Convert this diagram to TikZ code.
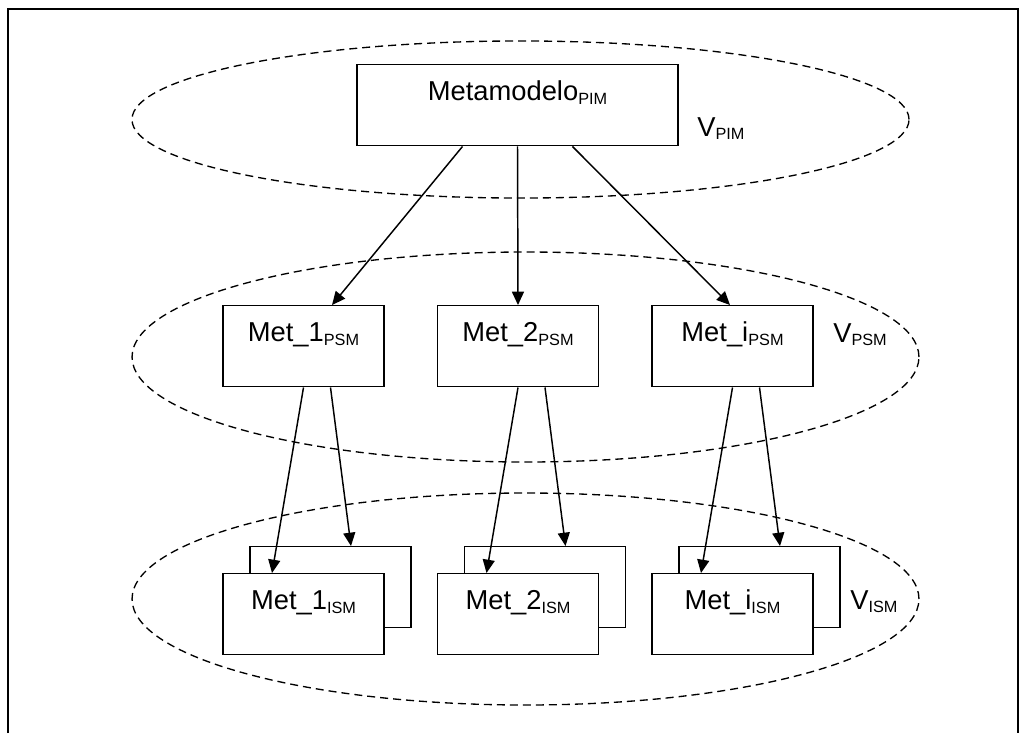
\documentclass[tikz,border=0pt]{standalone}
\usepackage{fontspec}
\setmainfont{Liberation Sans}
\usepackage{tikz}
\usetikzlibrary{arrows.meta, calc}
\newcommand{\subs}[1]{\raisebox{-2.6pt}{\fontsize{12.2}{14}\selectfont #1}}
\tikzset{
  metabox/.style={draw, fill=white, line width=1.1pt, inner sep=0pt, anchor=north,
    minimum width=120.75pt, text height=27pt, text depth=33.75pt,
    font=\fontsize{20.5}{24}\selectfont},
  vlabel/.style={anchor=base west, inner sep=0pt, font=\fontsize{20.5}{24}\selectfont},
  view/.style={line width=1pt, dash pattern=on 6pt off 3.75pt},
  flow/.style={line width=1.1pt, -{Triangle[length=10pt,width=9pt]}}
}
\begin{document}
\begin{tikzpicture}[x=0.75pt, y=-0.75pt]
        \useasboundingbox (0,0) rectangle (1020,733);
        % outer frame
        \draw[line width=1.5pt] (7.5,733) -- (7.5,9) -- (1018,9) -- (1018,733);
        % viewpoints
        \draw[view] (520.5,119.5) ellipse [x radius=291.4pt, y radius=58.9pt];
        \draw[view] (525.5,357) ellipse [x radius=295.1pt, y radius=78.75pt];
        \draw[view] (525.5,599) ellipse [x radius=295.1pt, y radius=79.5pt];
        % PIM level
        \node[metabox, minimum width=240.75pt] (meta) at (517.5,64) {Metamodelo\subs{PIM}};
        \node[vlabel] (vpim) at (697,136) {V\subs{PIM}};
        % PSM and ISM levels
        \foreach \n/\x in {1/303.5, 2/518, i/732.5} {
          \node[metabox] (psm\n) at (\x,305) {Met\_\n\subs{PSM}};
          \node[metabox] (ismb\n) at (\x+27,546) {};
          \node[metabox] (ism\n) at (\x,573) {Met\_\n\subs{ISM}};
        }
        \node[vlabel] (vpsm) at (833,342) {V\subs{PSM}};
        \node[vlabel] (vism) at (850,609) {V\subs{ISM}};
        % PIM to PSM
        \draw[flow] ($(meta.south)+(-55,0)$) -- ($(psm1.north)+(28.5,0)$);
        \draw[flow] (meta.south) -- (psm2.north);
        \draw[flow] ($(meta.south)+(55,0)$) -- ($(psmi.north)+(-2.5,0)$);
        % PSM to ISM
        \foreach \n in {1,2,i} {
          \draw[flow] (psm\n.south) -- ($(ism\n.north)+(-31.5,0)$);
          \draw[flow] ($(psm\n.south)+(27,0)$) -- ($(ismb\n.north)+(20.5,0)$);
        }
\end{tikzpicture}
\end{document}
